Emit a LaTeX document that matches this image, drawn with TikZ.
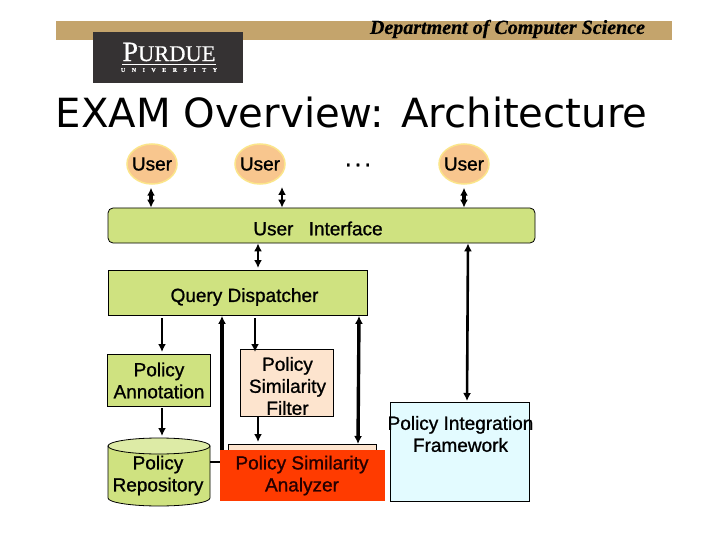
\documentclass[tikz,border=0pt]{standalone}
\usepackage{fontspec}
\setmainfont[RawFeature={embolden=1.0}]{Liberation Sans}
\newfontfamily\serifx[RawFeature={embolden=0.5}]{Liberation Serif}
\newfontfamily\titlefont{DejaVu Sans}
\usetikzlibrary{shapes.geometric,arrows.meta}
\definecolor{gold}{HTML}{C4A46C}
\definecolor{logobg}{HTML}{353233}
\definecolor{lime}{HTML}{CFE280}
\definecolor{limetop}{HTML}{DDEBA6}
\definecolor{peach}{HTML}{FDE4CE}
\definecolor{userfill}{HTML}{F8C68E}
\definecolor{useredge}{HTML}{FBE58A}
\definecolor{redbox}{HTML}{FF3B00}
\definecolor{icebox}{HTML}{E3FBFF}
\tikzset{
  lbl/.style={font=\fontsize{19}{22}\selectfont, align=center, inner sep=0pt, text=black},
  box/.style={draw=black, line width=0.8pt, inner sep=0pt},
  usernode/.style={ellipse, fill=userfill, draw=useredge, line width=1.5pt, minimum width=50pt, minimum height=40pt, inner xsep=-5pt, inner ysep=-3pt, font=\fontsize{19}{22}\selectfont},
  conn/.style={line width=1.8pt, -{Latex[length=8pt,width=8pt]}},
  dconn/.style={line width=1.8pt, {Latex[length=8pt,width=8pt]}-{Latex[length=8pt,width=8pt]}},
  heavy/.style={line width=3.4pt},
  mid/.style={line width=2.6pt}
}
\begin{document}
\begin{tikzpicture}[x=1pt,y=-1pt]
\useasboundingbox (0,0) rectangle (720,540);
\fill[white] (0,0) rectangle (720,540);
% header
\fill[gold] (56,21) rectangle (672,40);
\node[anchor=center, inner sep=0pt, font=\serifx\bfseries\itshape\fontsize{20}{22}\selectfont] (dept) at (507.5,29) {Department of Computer Science};
\node[fill=logobg, minimum width=150pt, minimum height=51pt, inner sep=0pt] (logo) at (168,57.5) {};
\node[text=white, inner sep=0pt, font=\serifx\fontsize{28}{30}\selectfont] (purdue) at (169,52) {P{\fontsize{22.5}{24}\selectfont URDUE}};
\draw[white, line width=0.6pt] (122,64) -- (216,64);
\node[text=white, inner sep=0pt, font=\serifx\bfseries\fontsize{6}{7}\selectfont] (univ) at (169,70) {U\hspace{6.5pt}N\hspace{6.5pt}I\hspace{6.5pt}V\hspace{6.5pt}E\hspace{6.5pt}R\hspace{6.5pt}S\hspace{6.5pt}I\hspace{6.5pt}T\hspace{6.5pt}Y};
\node[inner sep=0pt, font=\titlefont\fontsize{40.2}{44}\selectfont, text=black] (title) at (351.5,113) {EXAM Overview: Architecture};
% users
\node[usernode] (u1) at (152,164) {User};
\node[usernode] (u2) at (260,164) {User};
\node[usernode] (u3) at (464,164) {User};
\node[inner sep=0pt, font=\fontsize{24}{26}\selectfont] (dots) at (358,165) {.\hspace{3pt}.\hspace{3pt}.};
% blocks
\node[box, fill=lime, rounded corners=5pt, minimum width=427pt, minimum height=35pt] (ui) at (321.5,225.5) {};
\node[lbl] (uit) at (318,228.5) {User\hspace{10pt} Interface};
\node[box, fill=lime, minimum width=259pt, minimum height=45pt] (qd) at (237.5,293) {};
\node[lbl] (qdt) at (244.5,297) {Query Dispatcher};
\node[box, fill=lime, minimum width=103pt, minimum height=52pt] (ann) at (159,380) {};
\node[lbl] (annt) at (159,380.5) {Policy\\Annotation};
\node[box, fill=peach, minimum width=93pt, minimum height=67pt] (fil) at (286.5,382.5) {};
\node[lbl] (filt) at (287.5,386) {Policy\\Similarity\\Filter};
\node[minimum width=102pt, minimum height=68pt, inner sep=0pt] (rep) at (159,472) {};
\draw[draw=black, line width=0.8pt, fill=lime] (108,446) -- (108,498) arc[start angle=180, end angle=360, x radius=51pt, y radius=8pt] -- (210,446) -- cycle;
\draw[draw=black, line width=0.8pt, fill=limetop] (159,446) ellipse[x radius=51pt, y radius=8pt];
\node[lbl] (rept) at (158,475.5) {Policy\\Repository};
\node[box, fill=peach, minimum width=148pt, minimum height=30pt] (back) at (302,459) {};
\node[fill=redbox, minimum width=165pt, minimum height=51pt, inner sep=0pt] (an) at (302.5,475.5) {};
\node[lbl, text=black!85!red] (ant) at (302,475.5) {Policy Similarity\\Analyzer};
\node[box, fill=icebox, minimum width=139pt, minimum height=99pt] (pif) at (459.5,451.5) {};
\node[lbl] (pift) at (460.5,434) {Policy Integration\\Framework};
% connectors
\draw[dconn, heavy] (u1.south -| 151,0) ++(0,3) -- (ui.north -| 151,0);
\draw[dconn] (282,187) -- (ui.north -| 282,0);
\draw[dconn, heavy] (u3.south) ++(0,3) -- (ui.north -| u3.south);
\draw[dconn] (ui.south -| 258,0) -- (258,268);
\draw[dconn, mid] (ui.south -| 468,0) -- (467,401);
\draw[conn] (162,318) -- (162,352);
\draw[conn] (162,408) -- (162,436);
\draw[conn] (255,318) -- (255,352);
\draw[conn] (258,416) -- (258,442);
\draw[line width=1.8pt] (210,462) -- (an.west |- 0,462);
\draw[heavy, -{Latex[length=8pt,width=8pt]}] (222,450) -- (qd.south -| 222,0);
\draw[dconn, heavy] (qd.south -| 359,0) -- (358,444);
\end{tikzpicture}
\end{document}
